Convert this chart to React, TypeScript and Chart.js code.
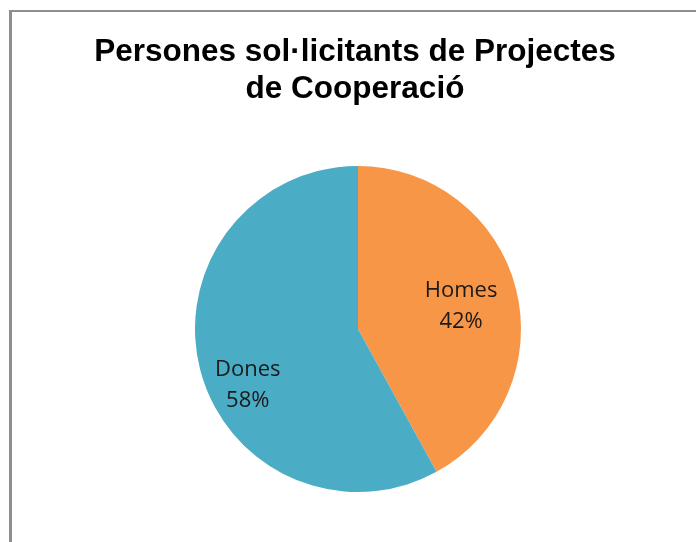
import React, { useEffect, useRef } from "react";
import { Chart, registerables } from "chart.js";

Chart.register(...registerables);

const titleLines = ["Persones sol·licitants de Projectes", "de Cooperació"];
const categories = ["Homes", "Dones"];
const values = [42, 58];
const colors = ["#F79646", "#4BACC6"];
// label placement tweaks (fraction of radius, angle shift in degrees)
const labelRadius = [0.65, 0.755];
const labelAngleShift = [1, -12];

const labelPlugin = {
  id: "sliceLabels",
  afterDatasetsDraw(chart: any) {
    const ctx = chart.ctx;
    const meta = chart.getDatasetMeta(0);
    const total = values.reduce((a, b) => a + b, 0);
    ctx.save();
    ctx.font = "22px 'Open Sans'";
    ctx.fillStyle = "#1a1a1a";
    ctx.textAlign = "center";
    ctx.textBaseline = "alphabetic";
    meta.data.forEach((arc: any, i: number) => {
      const p = arc.getProps(["x", "y", "startAngle", "endAngle", "outerRadius"], true);
      const mid = (p.startAngle + p.endAngle) / 2 + (labelAngleShift[i] * Math.PI) / 180;
      const r = p.outerRadius * labelRadius[i];
      const cx = p.x + Math.cos(mid) * r;
      const cy = p.y + Math.sin(mid) * r;
      const pct = Math.round((values[i] / total) * 100) + "%";
      ctx.fillText(categories[i], cx, cy - 7.5);
      ctx.fillText(pct, cx, cy + 23.5);
    });
    ctx.restore();
  },
};

export default function App() {
  const ref = useRef<HTMLCanvasElement>(null);
  useEffect(() => {
    if (!ref.current) return;
    const chart = new Chart(ref.current, {
      type: "pie",
      data: {
        labels: categories,
        datasets: [
          {
            data: values,
            backgroundColor: colors,
            borderWidth: 0,
          },
        ],
      },
      options: {
        responsive: false,
        animation: false,
        layout: { padding: { top: 166, bottom: 50, left: 195, right: 175 } },
        plugins: {
          legend: { display: false },
          tooltip: { enabled: false },
          title: { display: false },
        },
      },
      plugins: [labelPlugin],
    });
    return () => chart.destroy();
  }, []);

  return (
    <div style={{ position: "absolute", left: 0, top: 0, width: 696, height: 542, overflow: "hidden", background: "#fff" }}>
      <div
        style={{
          position: "absolute",
          left: 9,
          top: 10,
          width: 720,
          height: 580,
          borderLeft: "3px solid #8e8e8e",
          borderTop: "2px solid #8e8e8e",
          boxSizing: "border-box",
        }}
      />
      <canvas ref={ref} width={696} height={542} style={{ position: "absolute", left: 0, top: 0 }} />
      <div
        style={{
          position: "absolute",
          left: 0,
          top: 32,
          width: 710,
          textAlign: "center",
          fontFamily: "'Liberation Sans', Arial, sans-serif",
          fontWeight: "bold",
          fontSize: 31.5,
          lineHeight: "37px",
          color: "#000",
        }}
      >
        {titleLines.map((t, i) => (
          <div key={i}>{t}</div>
        ))}
      </div>
    </div>
  );
}
